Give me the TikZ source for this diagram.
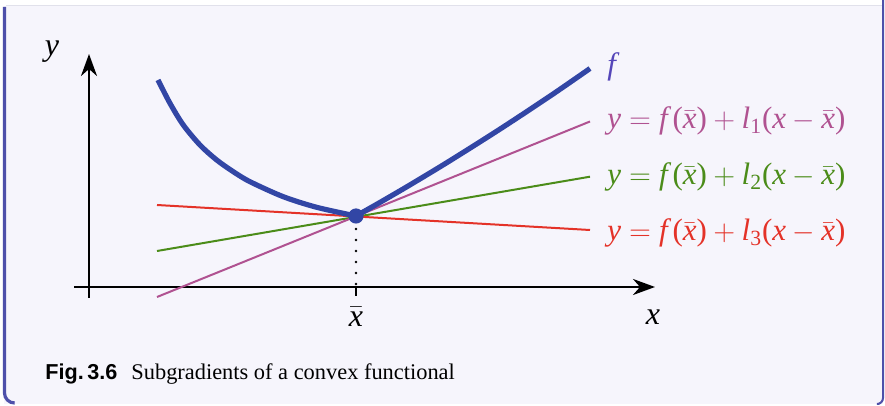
\documentclass[tikz,border=0pt]{standalone}
\usepackage[no-math]{fontspec}
\setmainfont{Liberation Serif}
\setsansfont{Liberation Sans}
\newfontfamily\libmath{Liberation Serif}[NFSSFamily=libsermath]
\DeclareSymbolFont{letters}{TU}{libsermath}{m}{it}
\DeclareSymbolFont{timesrm}{TU}{libsermath}{m}{n}
\DeclareMathSymbol{(}{\mathopen}{timesrm}{"28}
\DeclareMathSymbol{)}{\mathclose}{timesrm}{"29}
\DeclareMathSymbol{1}{\mathalpha}{timesrm}{"31}
\DeclareMathSymbol{2}{\mathalpha}{timesrm}{"32}
\DeclareMathSymbol{3}{\mathalpha}{timesrm}{"33}
\usetikzlibrary{arrows.meta}
\definecolor{bg}{RGB}{246,245,252}
\definecolor{frame}{RGB}{78,80,170}
\definecolor{topline}{RGB}{225,225,235}
\definecolor{fblue}{RGB}{50,70,165}
\definecolor{flabel}{RGB}{85,70,185}
\definecolor{lone}{RGB}{176,82,145}
\definecolor{ltwo}{RGB}{75,140,25}
\definecolor{lthree}{RGB}{228,50,40}
\begin{document}
\begin{tikzpicture}[x=0.5pt,y=-0.5pt,
  axis/.style={line width=1.2pt, black},
  axisarrow/.style={axis, -{Stealth[length=11pt,width=8pt,inset=3.5pt]}},
  fcurve/.style={line width=2.6pt, fblue, line join=round},
  subline/.style={line width=1pt},
  lbl/.style={inner sep=0pt, anchor=base west, font=\fontsize{15.5}{18}\selectfont},
  axlbl/.style={inner sep=0pt, anchor=base, font=\fontsize{16}{18}\selectfont},
  dotline/.style={line width=1.4pt, line cap=round, dash pattern=on 0pt off 5.5pt}]
\useasboundingbox (0,0) rectangle (885,406);
% frame
\fill[white] (0,0) rectangle (885,406);
\fill[bg] (4,6) rectangle (883,404);
\draw[topline, line width=0.6pt] (6,5.5) -- (882,5.5);
\draw[frame, line width=1.6pt, rounded corners=5pt] (4.5,7) -- (4.5,403) -- (14,403);
\draw[frame, line width=1pt, rounded corners=3pt] (883,0) -- (883,404) -- (879,404);
% axes
\coordinate (xl) at (74,287);
\coordinate (xr) at (655,287);
\coordinate (yb) at (89,298);
\coordinate (yt) at (89,54);
\draw[axisarrow] (xl) -- (xr);
\draw[axisarrow] (yb) -- (yt);
\node[axlbl] (ylab) at (52,56) {$y$};
\node[axlbl] (xlab) at (653,325) {$x$};
% subgradient lines
\coordinate (a1) at (157,297); \coordinate (b1) at (590,121.5);
\coordinate (a2) at (157,251); \coordinate (b2) at (590,176.7);
\coordinate (a3) at (157,205); \coordinate (b3) at (590,230);
\draw[subline, ltwo] (a2) -- (b2);
\draw[subline, lone] (a1) -- (b1);
\draw[subline, lthree] (a3) -- (b3);
% xbar
\coordinate (xbar) at (356,216);
\coordinate (xbaxis) at (356,287);
\coordinate (xbtick) at (356,296);
\draw[dotline] (356,229) -- (xbaxis);
\draw[axis] (xbaxis) -- (xbtick);
\node[axlbl] (xblab) at (356,327) {$\bar{x}$};
% function
\draw[fcurve] plot[smooth] coordinates {(158,80) (170,103.3) (183.3,125) (200,145) (216.7,160) (233.3,171.7) (250,181.7) (283.3,196.7) (316.7,207.3) (356,216)}
  -- plot[smooth] coordinates {(356,216) (380,202.4) (410,184.9) (450,160.7) (500,129.1) (550,96.1) (590,68.5)};
\fill[fblue] (xbar) circle[radius=3.8pt];
% labels
\node[lbl, text=flabel] (flab) at (607,75) {$f$};
\node[lbl, text=lone] (l1lab) at (607,129) {$y=f\,(\bar{x})+l_1(x-\bar{x})$};
\node[lbl, text=ltwo] (l2lab) at (607,185) {$y=f\,(\bar{x})+l_2(x-\bar{x})$};
\node[lbl, text=lthree] (l3lab) at (607,241) {$y=f\,(\bar{x})+l_3(x-\bar{x})$};
% caption
\node[inner sep=0pt, anchor=base west, font=\fontsize{10.8}{13}\selectfont\sffamily\bfseries] (fignum) at (45,380) {Fig.\,3.6};
\node[inner sep=0pt, anchor=base west, font=\fontsize{11.2}{13}\selectfont] (caption) at (131,380) {Subgradients of a convex functional};
\end{tikzpicture}
\end{document}
